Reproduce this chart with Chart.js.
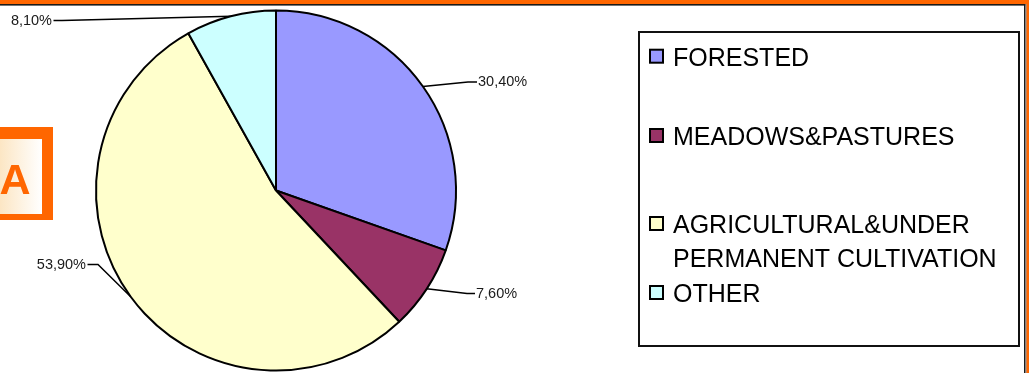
<!DOCTYPE html>
<html>
<head>
<meta charset="utf-8">
<style>
  html, body { margin: 0; padding: 0; background: #fff; overflow: hidden; }
  #wrap { width: 1029px; height: 373px; position: relative; }
  canvas { display: block; }
</style>
<script src="https://cdn.jsdelivr.net/npm/chart.js@4.4.1/dist/chart.umd.min.js"></script>
</head>
<body>
<div id="wrap"><canvas id="landUse" width="1029" height="373"></canvas></div>
<script>
// Land use shares (%)
const categories = ['FORESTED', 'MEADOWS&PASTURES', 'AGRICULTURAL&UNDER PERMANENT CULTIVATION', 'OTHER'];
const legendLines = [['FORESTED'], ['MEADOWS&PASTURES'], ['AGRICULTURAL&UNDER', 'PERMANENT CULTIVATION'], ['OTHER']];
const shares = [30.4, 7.6, 53.9, 8.1];
const sliceColors = ['#9999FF', '#993366', '#FFFFCC', '#CCFFFF'];

// Where each percentage label sits and where its leader line bends
const labelLayout = [
  { x: 478, y: 82,  align: 'left',  elbow: [468, 82] },
  { x: 476, y: 294, align: 'left',  elbow: [467, 293.5] },
  { x: 86,  y: 265, align: 'right', elbow: [98, 264.5] },
  { x: 52,  y: 21,  align: 'right', elbow: [62, 20.6] }
];

// Legend box and row baselines
const legendBox = { left: 639, top: 32, right: 1019, bottom: 346 };
const legendBaselines = [65.7, 145, 233, 302];
const legendLineGap = 34;

const FONT = '"Liberation Sans", Arial, Helvetica, sans-serif';

function fmtPct(v) {
  return v.toFixed(2).replace('.', ',') + '%';
}

// Page frame and the tab with the letter on the left
const framePlugin = {
  id: 'frame',
  beforeDraw(chart) {
    const ctx = chart.ctx;
    ctx.save();
    ctx.fillStyle = '#ffffff';
    ctx.fillRect(0, 0, chart.width, chart.height);

    // letter tab
    ctx.fillStyle = '#FF6600';
    ctx.fillRect(0, 127, 53, 93);
    const g = ctx.createLinearGradient(0, 0, 42, 0);
    g.addColorStop(0, '#FCE6C4');
    g.addColorStop(1, '#FFFFFF');
    ctx.fillStyle = g;
    ctx.fillRect(0, 139, 42, 75);
    ctx.fillStyle = '#FF6600';
    ctx.font = 'bold 43px ' + FONT;
    ctx.textAlign = 'center';
    ctx.textBaseline = 'alphabetic';
    ctx.fillText('A', 15, 194);
    ctx.restore();
  },
  afterDraw(chart) {
    const ctx = chart.ctx;
    const W = chart.width, H = chart.height;
    ctx.save();
    ctx.fillStyle = '#FF6600';
    ctx.fillRect(0, 0, W, 4);
    ctx.fillRect(1026, 0, W - 1026, H);
    ctx.fillStyle = '#1a1a1a';
    ctx.fillRect(0, 4, 1025.5, 1.6);
    ctx.fillRect(1024, 4, 1.6, H - 4);
    ctx.fillStyle = '#9a9a9a';
    ctx.fillRect(1025.6, 4, 0.9, H - 4);
    ctx.restore();
  }
};

// Percentage labels with leader lines to the middle of each slice's rim
const labelPlugin = {
  id: 'sliceLabels',
  afterDatasetsDraw(chart) {
    const ctx = chart.ctx;
    const meta = chart.getDatasetMeta(0);
    ctx.save();
    ctx.font = '14.5px ' + FONT;
    ctx.textBaseline = 'middle';
    meta.data.forEach((arc, i) => {
      const p = arc.getProps(['x', 'y', 'startAngle', 'endAngle', 'outerRadius'], true);
      const mid = (p.startAngle + p.endAngle) / 2;
      const ax = p.x + Math.cos(mid) * p.outerRadius;
      const ay = p.y + Math.sin(mid) * p.outerRadius;
      const L = labelLayout[i];
      const startX = L.align === 'left' ? L.x - 1 : L.x + 1.5;

      ctx.strokeStyle = '#000';
      ctx.lineWidth = 1.5;
      ctx.beginPath();
      ctx.moveTo(startX, L.elbow[1]);
      ctx.lineTo(L.elbow[0], L.elbow[1]);
      ctx.lineTo(ax, ay);
      ctx.stroke();

      ctx.fillStyle = '#1a1a1a';
      ctx.textAlign = L.align;
      ctx.fillText(fmtPct(chart.data.datasets[0].data[i]), L.x, L.y);
    });
    ctx.restore();
  }
};

// Boxed legend on the right
const legendPlugin = {
  id: 'boxLegend',
  afterDraw(chart) {
    const ctx = chart.ctx;
    const ds = chart.data.datasets[0];
    ctx.save();
    ctx.strokeStyle = '#111';
    ctx.lineWidth = 2;
    ctx.strokeRect(legendBox.left, legendBox.top, legendBox.right - legendBox.left, legendBox.bottom - legendBox.top);

    ctx.font = '25px ' + FONT;
    ctx.textAlign = 'left';
    ctx.textBaseline = 'alphabetic';
    legendLines.forEach((lines, i) => {
      const base = legendBaselines[i];
      ctx.fillStyle = ds.backgroundColor[i];
      ctx.fillRect(650, base - 16, 13, 13);
      ctx.strokeStyle = '#000';
      ctx.lineWidth = 2;
      ctx.strokeRect(650, base - 16, 13, 13);
      ctx.fillStyle = '#000';
      lines.forEach((t, k) => ctx.fillText(t, 673, base + k * legendLineGap));
    });
    ctx.restore();
  }
};

new Chart(document.getElementById('landUse'), {
  type: 'pie',
  data: {
    labels: categories,
    datasets: [{
      data: shares,
      backgroundColor: sliceColors,
      borderColor: '#000',
      borderWidth: 2,
      hoverOffset: 0,
      radius: 180
    }]
  },
  options: {
    responsive: false,
    animation: false,
    events: [],
    layout: { padding: { left: 0, right: 477, top: 8, bottom: 0 } },
    plugins: {
      legend: { display: false },
      tooltip: { enabled: false }
    }
  },
  plugins: [framePlugin, labelPlugin, legendPlugin]
});
</script>
</body>
</html>
